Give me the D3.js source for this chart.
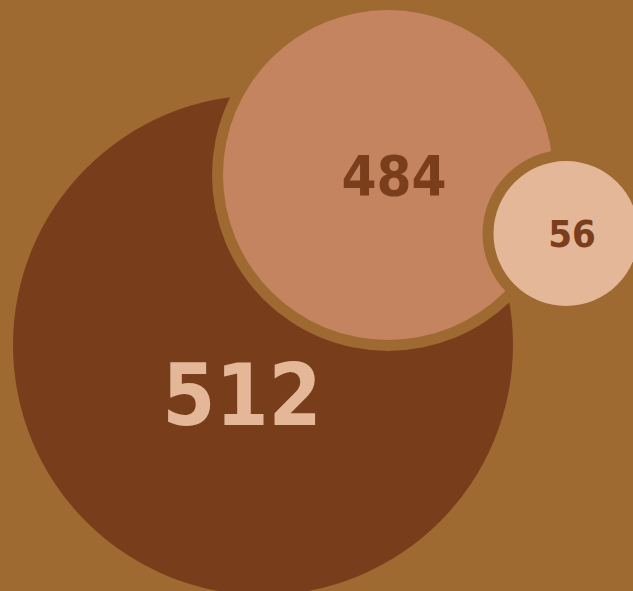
<!DOCTYPE html>
<html>
<head>
<meta charset="utf-8">
<script src="https://cdn.jsdelivr.net/npm/d3@7"></script>
<style>
  html, body { margin: 0; padding: 0; background: #9e6a31; }
  svg { display: block; }
</style>
</head>
<body>
<svg id="chart" width="633" height="591"></svg>
<script>
// data
const labels = ["A", "B", "C"];
const values = [512, 484, 56];

const width = 633, height = 591;
const bg = "#9e6a31";

// layout (centres and label spots, in px)
const layout = [
  { cx: 263, cy: 345, lx: 242, ly: 425, fs: 85, fill: "#783d1b", text: "#e3b798", ring: false },
  { cx: 388, cy: 175, lx: 394, ly: 195, fs: 56, fill: "#c3845f", text: "#7a3e1c", ring: true },
  { cx: 566, cy: 233.5, lx: 572, ly: 247, fs: 38, fill: "#e3b798", text: "#7a3e1c", ring: true }
];

const sorted = values.slice().sort(d3.ascending);
const r = d3.scaleLinear()
  .domain(sorted)
  .range([72.5, 165, 250]);

const svg = d3.select("#chart");

svg.append("rect")
  .attr("width", width)
  .attr("height", height)
  .attr("fill", bg);

const nodes = values.map((v, i) => Object.assign({ label: labels[i], value: v }, layout[i]));

const g = svg.selectAll("g.bubble")
  .data(nodes)
  .join("g")
  .attr("class", "bubble");

// ring in background colour so bubbles look cut out of each other
g.filter(d => d.ring)
  .append("circle")
  .attr("cx", d => d.cx)
  .attr("cy", d => d.cy)
  .attr("r", d => r(d.value) + 11)
  .attr("fill", bg);

g.append("circle")
  .attr("cx", d => d.cx)
  .attr("cy", d => d.cy)
  .attr("r", d => r(d.value))
  .attr("fill", d => d.fill);

g.append("text")
  .attr("x", d => d.lx)
  .attr("y", d => d.ly)
  .attr("text-anchor", "middle")
  .attr("font-family", "'DejaVu Sans Condensed', 'DejaVu Sans', sans-serif")
  .attr("font-stretch", "condensed")
  .attr("font-weight", "bold")
  .attr("font-size", d => d.fs)
  .attr("fill", d => d.text)
  .text(d => d.value);
</script>
</body>
</html>
